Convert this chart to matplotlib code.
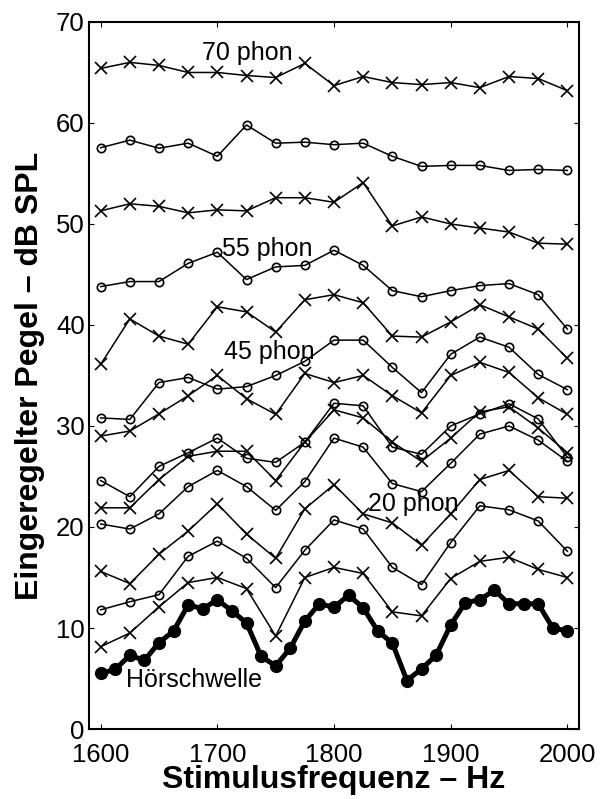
import numpy as np
import matplotlib
matplotlib.use("Agg")
import matplotlib.pyplot as plt

plt.rcParams['font.family'] = ['Liberation Sans', 'DejaVu Sans']

freq = [1600, 1625, 1650, 1675, 1700, 1725, 1750, 1775, 1800,
        1825, 1850, 1875, 1900, 1925, 1950, 1975, 2000]

phon70 = [65.4, 66.0, 65.7, 65.0, 65.0, 64.7, 64.5, 65.9, 63.7, 64.6, 64.0, 63.8, 64.0, 63.5, 64.6, 64.4, 63.2]
phon65 = [57.55, 58.3, 57.5, 58.0, 56.7, 59.8, 58.0, 58.1, 57.85, 58.0, 56.7, 55.7, 55.8, 55.8, 55.3, 55.4, 55.3]
phon60 = [51.3, 52.0, 51.75, 51.1, 51.4, 51.3, 52.6, 52.6, 52.15, 54.1, 49.8, 50.7, 50.0, 49.6, 49.2, 48.1, 48.0]
phon55 = [43.8, 44.3, 44.3, 46.1, 47.2, 44.5, 45.75, 45.9, 47.4, 45.9, 43.4, 42.8, 43.4, 43.9, 44.1, 43.0, 39.6]
phon50 = [36.1, 40.6, 38.9, 38.1, 41.8, 41.3, 39.3, 42.5, 43.0, 42.2, 38.9, 38.8, 40.3, 42.0, 40.8, 39.6, 36.7]
phon45 = [30.8, 30.65, 34.3, 34.8, 33.65, 33.9, 35.0, 36.4, 38.5, 38.5, 35.8, 33.3, 37.1, 38.8, 37.8, 35.1, 33.6]
phon40 = [29.0, 29.5, 31.2, 33.0, 35.0, 32.7, 31.15, 35.2, 34.3, 35.0, 33.0, 31.3, 35.0, 36.3, 35.3, 32.8, 31.15]
phon35 = [24.6, 23.0, 26.0, 27.35, 28.8, 26.8, 26.4, 28.4, 32.25, 32.0, 27.9, 27.2, 30.0, 31.2, 32.2, 30.7, 26.9]
phon30 = [21.9, 21.9, 24.7, 27.0, 27.5, 27.5, 24.6, 28.4, 31.6, 30.8, 28.4, 26.5, 28.8, 31.4, 31.9, 29.8, 27.35]
phon25 = [20.3, 19.8, 21.3, 24.0, 25.6, 24.0, 21.65, 24.5, 28.8, 27.9, 24.3, 23.5, 26.3, 29.2, 30.0, 28.6, 26.5]
phon20 = [15.6, 14.4, 17.3, 19.6, 22.3, 19.3, 16.9, 21.8, 24.2, 21.3, 20.4, 18.2, 21.3, 24.7, 25.6, 23.0, 22.85]
phon15 = [11.8, 12.6, 13.3, 17.1, 18.6, 16.9, 14.0, 17.7, 20.7, 19.8, 16.0, 14.3, 18.45, 22.1, 21.7, 20.6, 17.6]
phon10 = [8.15, 9.5, 12.1, 14.5, 15.0, 13.9, 9.2, 15.0, 16.0, 15.4, 11.6, 11.2, 14.9, 16.6, 17.0, 15.8, 15.0]

thr_freq = [1600, 1612.5, 1625, 1637.5, 1650, 1662.5, 1675, 1687.5, 1700, 1712.5, 1725,
            1737.5, 1750, 1762.5, 1775, 1787.5, 1800, 1812.5, 1825, 1837.5, 1850,
            1862.5, 1875, 1887.5, 1900, 1912.5, 1925, 1937.5, 1950, 1962.5, 1975,
            1987.5, 2000]
threshold = [5.5, 5.9, 7.3, 6.8, 8.55, 9.7, 12.3, 11.9, 12.8, 11.7, 10.5,
             7.2, 6.25, 8.0, 10.7, 12.4, 12.05, 13.25, 12.0, 9.7, 8.5,
             4.8, 5.95, 7.3, 10.3, 12.5, 12.8, 13.75, 12.4, 12.4, 12.4,
             10.0, 9.7]

curves = [(phon70, 'x'), (phon65, 'o'), (phon60, 'x'), (phon55, 'o'),
          (phon50, 'x'), (phon45, 'o'), (phon40, 'x'), (phon35, 'o'),
          (phon30, 'x'), (phon25, 'o'), (phon20, 'x'), (phon15, 'o'),
          (phon10, 'x')]

labels = ["70 phon", "55 phon", "45 phon", "20 phon", "Hörschwelle"]
label_x = [1687, 1704, 1706, 1829, 1622]
label_y = [66.9, 47.5, 37.3, 22.3, 4.9]

fig = plt.figure(figsize=(6.15, 7.99), dpi=100)
ax = fig.add_axes([0.1447, 0.0876, 0.9415 - 0.1447, 0.9725 - 0.0876])

for vals, m in curves:
    if m == 'x':
        ax.plot(freq, vals, color='black', lw=1.1, marker='x', ms=8, mew=1.2)
    else:
        ax.plot(freq, vals, color='black', lw=1.1, marker='o', ms=6,
                mfc='none', mew=1.2)

ax.plot(thr_freq, threshold, color='black', lw=3.6, marker='o', ms=8.5,
        mfc='black', mec='black')

for t, x, y in zip(labels, label_x, label_y):
    ax.text(x, y, t, fontsize=18, ha='left', va='center')

ax.set_xlim(1590, 2010)
ax.set_ylim(0, 70)
ax.set_xticks([1600, 1700, 1800, 1900, 2000])
ax.set_yticks([0, 10, 20, 30, 40, 50, 60, 70])
ax.tick_params(direction='in', top=True, right=True, length=3.6, width=0.8,
               labelsize=18.5)
ax.tick_params(axis='y', pad=3)
ax.tick_params(axis='x', pad=10)
for s in ax.spines.values():
    s.set_linewidth(1.5)
ax.set_xlabel("Stimulusfrequenz – Hz", fontsize=23, fontweight='bold')
ax.set_ylabel("Eingeregelter Pegel – dB SPL", fontsize=23, fontweight='bold')
ax.xaxis.set_label_coords(0.5, -0.051)
ax.yaxis.set_label_coords(-0.09, 0.5)

fig.savefig("out.png", dpi=100)
